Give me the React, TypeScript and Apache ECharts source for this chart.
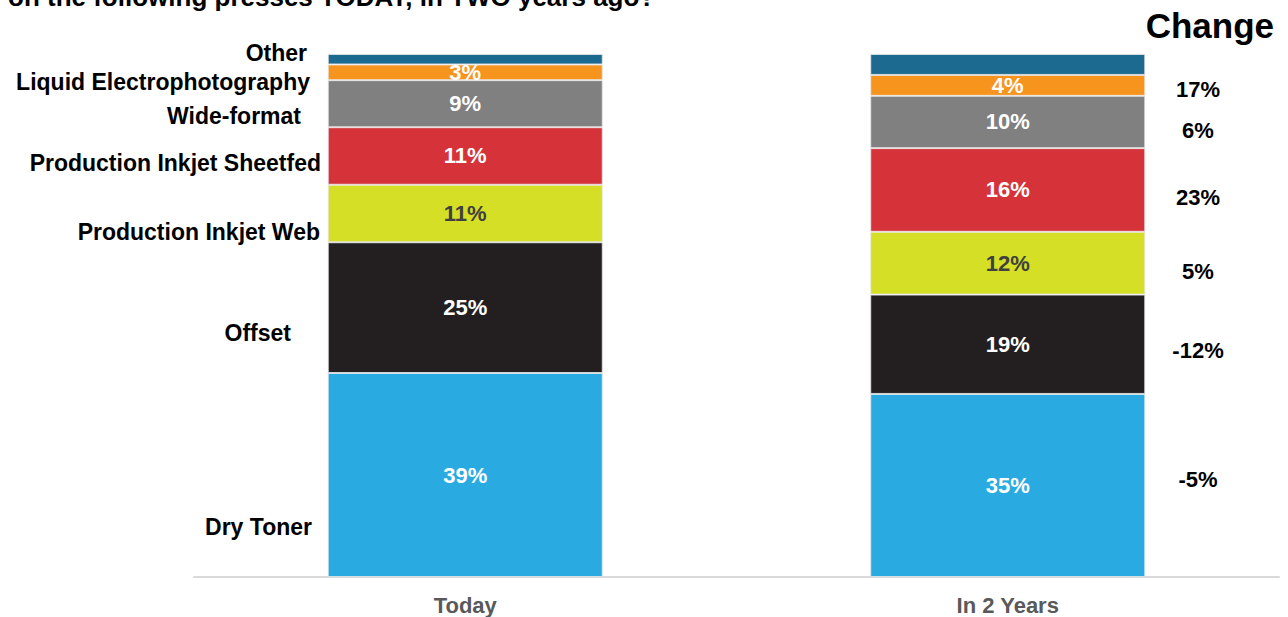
import React, { useEffect, useRef } from "react";
import * as echarts from "echarts";

const categories = ["Today", "In 2 Years"];
const pressTypes = [
  "Dry Toner",
  "Offset",
  "Production Inkjet Web",
  "Production Inkjet Sheetfed",
  "Wide-format",
  "Liquid Electrophotography",
  "Other",
];
const todayValues = [39, 25, 11, 11, 9, 3, 2];
const in2YearsValues = [35, 19, 12, 16, 10, 4, 4];
const changeLabels = ["-5%", "-12%", "5%", "23%", "6%", "17%", ""];
const titleText = "on the following presses TODAY, in TWO years ago?";
const changeTitle = "Change";

const colors = ["#29abe2", "#231f20", "#d4df26", "#d6323a", "#808080", "#f7941e", "#1c6a8f"];
const labelColors = ["#ffffff", "#ffffff", "#404040", "#ffffff", "#ffffff", "#ffffff", "#ffffff"];

// layout of annotation texts (positions, not data)
const leftLabelLayout = [
  { x: 312, y: 527 },
  { x: 291, y: 333 },
  { x: 320, y: 232 },
  { x: 321, y: 163 },
  { x: 301, y: 116 },
  { x: 310, y: 82 },
  { x: 307, y: 53 },
];
const changeLayoutY = [479, 350, 271, 197, 130, 89, 0];

const FONT = "'Liberation Sans', Arial, Helvetica, sans-serif";

export default function App() {
  const ref = useRef<HTMLDivElement>(null);
  useEffect(() => {
    if (!ref.current) return;
    const chart = echarts.init(ref.current, null, { renderer: "svg" });
    const series = pressTypes.map((name, i) => ({
      name,
      type: "bar",
      stack: "total",
      barWidth: 275,
      data: [todayValues[i], in2YearsValues[i]],
      itemStyle: { color: colors[i], borderColor: "rgba(230,230,230,0.8)", borderWidth: 1 },
      label: {
        show: name !== "Other",
        position: "inside",
        formatter: (p: any) => `${p.value}%`,
        color: labelColors[i],
        fontFamily: FONT,
        fontWeight: "bold",
        fontSize: 22,
      },
    }));
    const graphics: any[] = [
      {
        type: "text",
        left: 8,
        top: -16,
        style: { text: titleText, font: `bold 26px ${FONT}`, fill: "#000" },
      },
      {
        type: "text",
        x: 1274,
        y: 25,
        style: { text: changeTitle, font: `bold 35px ${FONT}`, fill: "#000", align: "right", verticalAlign: "middle" },
      },
    ];
    pressTypes.forEach((name, i) => {
      graphics.push({
        type: "text",
        x: leftLabelLayout[i].x,
        y: leftLabelLayout[i].y,
        style: { text: name, font: `bold 23px ${FONT}`, fill: "#000", align: "right", verticalAlign: "middle" },
      });
      if (changeLabels[i]) {
        graphics.push({
          type: "text",
          x: 1198,
          y: changeLayoutY[i],
          style: { text: changeLabels[i], font: `bold 22px ${FONT}`, fill: "#000", align: "center", verticalAlign: "middle" },
        });
      }
    });
    chart.setOption({
      animation: false,
      grid: { left: 194, right: 9, top: 54, bottom: 40, containLabel: false },
      xAxis: {
        type: "category",
        data: categories,
        axisTick: { show: false },
        axisLine: { lineStyle: { color: "#d9d9d9", width: 2 } },
        axisLabel: {
          color: "#595959",
          fontFamily: "'Liberation Sans Narrow', 'Liberation Sans', Arial, sans-serif",
          fontWeight: "bold",
          fontSize: 22,
          margin: 17,
        },
      },
      yAxis: { type: "value", min: 0, max: 100, show: false, splitLine: { show: false } },
      series,
      graphic: graphics,
    });
    return () => chart.dispose();
  }, []);
  return <div ref={ref} style={{ width: 1288, height: 617, position: "absolute", left: 0, top: 0 }} />;
}
